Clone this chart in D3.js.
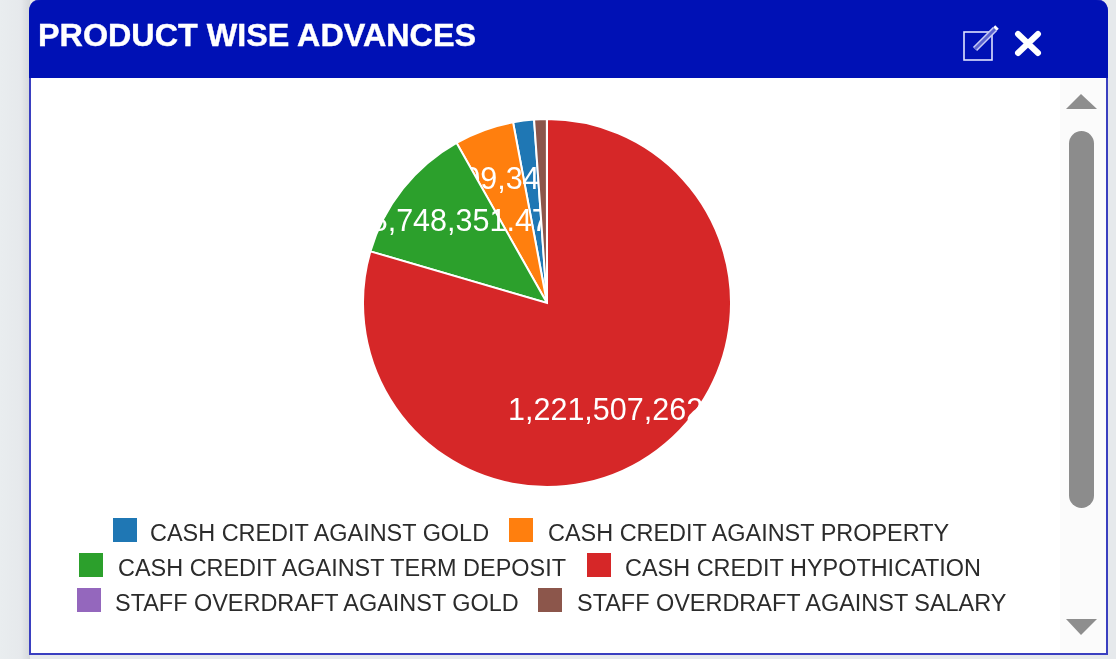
<!DOCTYPE html>
<html><head><meta charset="utf-8">
<script src="https://cdnjs.cloudflare.com/ajax/libs/d3/7.8.5/d3.min.js"></script>
<style>html,body{margin:0;padding:0;background:#e6e9ec;overflow:hidden}#w{filter:blur(.6px)}svg{display:block}text{font-family:"Liberation Sans",Arial,sans-serif}</style>
</head><body><div id="w"><svg id="c" width="1116" height="659"></svg></div>
<script>
const categories=["CASH CREDIT AGAINST GOLD","CASH CREDIT AGAINST PROPERTY","CASH CREDIT AGAINST TERM DEPOSIT","CASH CREDIT HYPOTHICATION","STAFF OVERDRAFT AGAINST GOLD","STAFF OVERDRAFT AGAINST SALARY"];
const values=[28200000,80309345.12,188748351.47,1221507262.47,200000,17000000];
const title="PRODUCT WISE ADVANCES";

const svg=d3.select("#c");
const defs=svg.append("defs");
const g=defs.append("linearGradient").attr("id","bgL");
g.append("stop").attr("offset",0).attr("stop-color","#e9edef");
g.append("stop").attr("offset",.7).attr("stop-color","#e6e9ec");
g.append("stop").attr("offset",1).attr("stop-color","#d5d8db");
svg.append("rect").attr("width",30).attr("height",659).attr("fill","url(#bgL)");
// card
svg.append("path").attr("d","M30,12 Q30,0 42,0 H1095 Q1107,0 1107,12 V654 H30 Z").attr("fill","#fff").attr("stroke","#3a3fc0").attr("stroke-width",2);
svg.append("path").attr("d","M29,78 V12 Q29,0 41,0 H1096 Q1108,0 1108,12 V78 Z").attr("fill","#0011b5");
svg.append("rect").attr("x",1060).attr("y",79).attr("width",46).attr("height",574).attr("fill","#fbfbfb");
svg.append("text").attr("x",38).attr("y",46).attr("fill","#fff").attr("stroke","#fff").attr("stroke-width",.4).attr("font-weight",700).attr("font-size",32).attr("textLength",438).attr("lengthAdjust","spacingAndGlyphs").text(title);
// icons
const ic=svg.append("g").attr("fill","none");
ic.append("rect").attr("x",964).attr("y",32).attr("width",28).attr("height",28).attr("stroke","#dfe3ff").attr("stroke-width",1.6);
ic.append("path").attr("d","M975,49 L995,29").attr("stroke-width",6).attr("stroke","#c9cdf5");
ic.append("path").attr("d","M975,49 L995,29").attr("stroke-width",3).attr("stroke","#5a63d0");
ic.append("path").attr("d","M995,29 L997,27").attr("stroke-width",5).attr("stroke","#fff");
svg.append("path").attr("d","M1018,34 L1038,53 M1038,34 L1018,53").attr("stroke","#fff").attr("stroke-width",6).attr("stroke-linecap","round").attr("fill","none");
// scrollbar
svg.append("path").attr("d","M1066,109 L1081,94 L1097,109 Z").attr("fill","#8e8e8e");
svg.append("path").attr("d","M1066,619 L1097,619 L1081,635 Z").attr("fill","#8e8e8e");
svg.append("rect").attr("x",1069).attr("y",131).attr("width",25).attr("height",377).attr("rx",12.5).attr("fill","#8c8c8c");
// pie: slices and labels stacked in data order, so later slices cover earlier labels
const color=d3.scaleOrdinal(d3.schemeCategory10).domain(categories);
const data=categories.map((c,i)=>({c,v:values[i]}));
const arcs=d3.pie().value(d=>d.v)(data);
const R=184,cx=547,cy=303;
const arc=d3.arc().innerRadius(0).outerRadius(R);
const lblArc=d3.arc().innerRadius(133).outerRadius(133);
const pie=svg.append("g").attr("transform",`translate(${cx},${cy})`);
const fmt=d3.format(",.2f");
const minLabelAngle=0.2;
const slices=pie.selectAll("g").data(arcs.slice().sort((a,b)=>a.index===b.index?0:categories.indexOf(a.data.c)-categories.indexOf(b.data.c))).join("g");
slices.append("path").attr("d",arc).attr("fill",d=>color(d.data.c)).attr("stroke","#fff").attr("stroke-width",2);
slices.filter(d=>d.endAngle-d.startAngle>minLabelAngle).append("text")
  .attr("transform",d=>`translate(${lblArc.centroid(d)})`).attr("dy",".35em").attr("text-anchor","middle")
  .attr("fill","#fff").attr("font-size",30.5).text(d=>fmt(d.data.v));
// legend
const legendPos=[[113,518,150],[509,518,548],[79,553,118],[587,553,625],[77,588,115],[538,588,577]];
const lg=svg.append("g");
categories.forEach((c,i)=>{
  const [sx,sy,tx]=legendPos[i];
  lg.append("rect").attr("x",sx).attr("y",sy).attr("width",24).attr("height",24).attr("fill",color(c));
  lg.append("text").attr("x",tx).attr("y",sy+23).attr("font-size",23.45).attr("fill","#2b2b2b").text(c);
});
</script></body></html>
